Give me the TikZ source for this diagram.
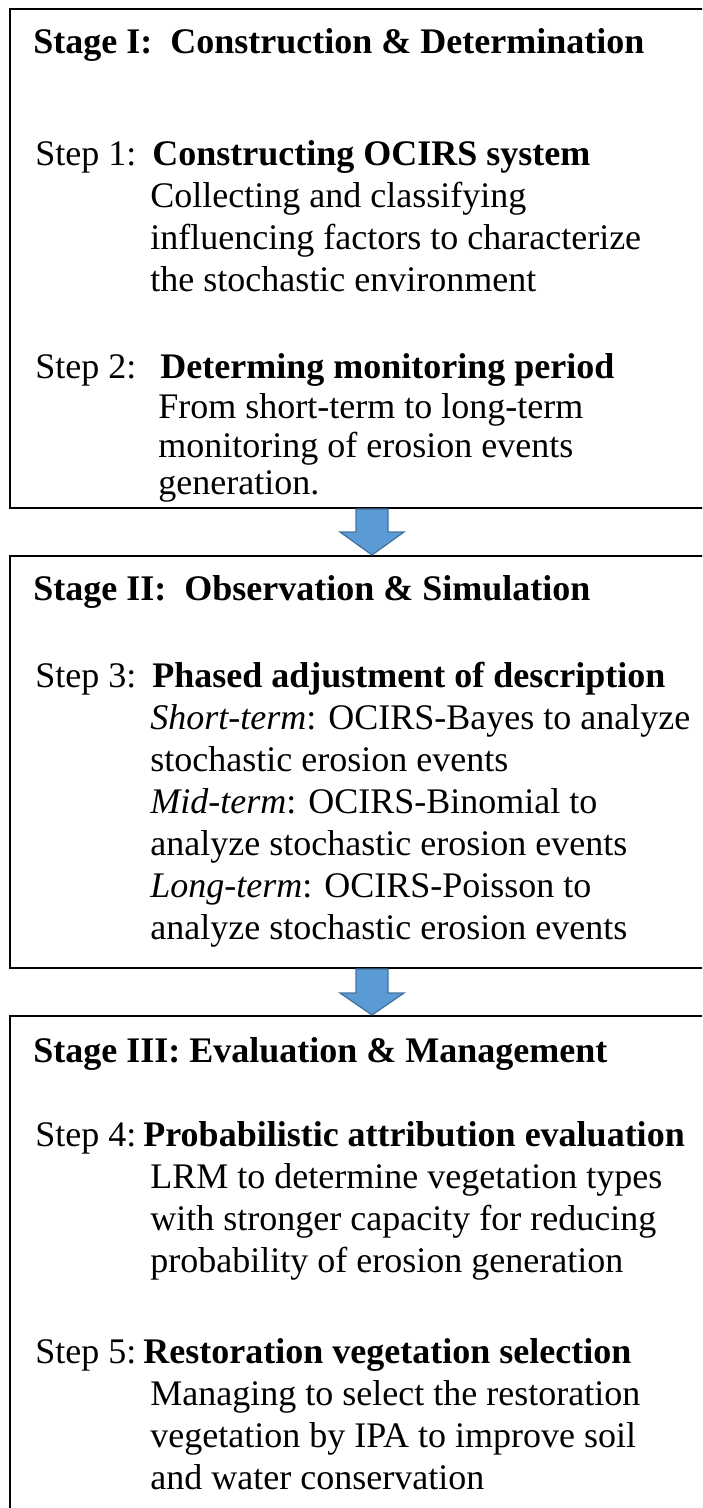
\documentclass[tikz,border=0pt]{standalone}
\usepackage{fontspec}
\setmainfont{Liberation Serif}
\begin{document}
\begin{tikzpicture}[x=0.5pt,y=-0.5pt,
  stagebox/.style={draw=black,line width=1pt,inner sep=0pt,anchor=north west},
  txt/.style={anchor=base west,inner sep=0pt,font=\fontsize{18pt}{21pt}\selectfont},
  btxt/.style={txt,font=\fontsize{18pt}{21pt}\selectfont\bfseries},
  blockarrow/.style={fill=arrowblue,draw=arrowedge,line width=0.6pt,line join=miter}
]
\definecolor{arrowblue}{HTML}{5B9BD5}
\definecolor{arrowedge}{HTML}{41719C}
\useasboundingbox (0,0) rectangle (702,1508);
\clip (0,0) rectangle (702,1508);
% boxes
\node[stagebox,minimum width=724pt*0.5,minimum height=499pt*0.5] (s1) at (9,8) {};
\node[stagebox,minimum width=724pt*0.5,minimum height=412pt*0.5] (s2) at (9,555) {};
\node[stagebox,minimum width=724pt*0.5,minimum height=540pt*0.5] (s3) at (9,1015) {};
% arrows
\draw[blockarrow] ([xshift=-8pt]s1.south) -- ([xshift=-8pt,yshift=-11.5pt]s1.south)
  -- ([xshift=-16pt,yshift=-11.5pt]s1.south) -- (s2.north)
  -- ([xshift=16pt,yshift=-11.5pt]s1.south) -- ([xshift=8pt,yshift=-11.5pt]s1.south)
  -- ([xshift=8pt]s1.south) -- cycle;
\draw[blockarrow] ([xshift=-8pt]s2.south) -- ([xshift=-8pt,yshift=-12pt]s2.south)
  -- ([xshift=-16pt,yshift=-12pt]s2.south) -- (s3.north)
  -- ([xshift=16pt,yshift=-12pt]s2.south) -- ([xshift=8pt,yshift=-12pt]s2.south)
  -- ([xshift=8pt]s2.south) -- cycle;
% Stage I
\node[btxt] (h1) at (33,54) {Stage I:\ \ Construction \& Determination};
\node[txt] (a1) at (35,166) {Step 1:};
\node[btxt] (a2) at (152,166) {Constructing OCIRS system};
\node[txt] (a3) at (150,208) {Collecting and classifying};
\node[txt] (a4) at (150,250) {influencing factors to characterize};
\node[txt] (a5) at (150,292) {the stochastic environment};
\node[txt] (b1) at (35,379) {Step 2:};
\node[btxt] (b2) at (160,379) {Determing monitoring period};
\node[txt] (b3) at (158,418) {From short-term to long-term};
\node[txt] (b4) at (158,457) {monitoring of erosion events};
\node[txt] (b5) at (158,494) {generation.};
% Stage II
\node[btxt] (h2) at (33,600) {Stage II:\ \ Observation \& Simulation};
\node[txt] (c1) at (35,687) {Step 3:};
\node[btxt] (c2) at (152,687) {Phased adjustment of description};
\node[txt] (c3) at (150,729) {\textit{Short-term}: OCIRS-Bayes to analyze};
\node[txt] (c4) at (150,771) {stochastic erosion events};
\node[txt] (c5) at (150,813) {\textit{Mid-term}: OCIRS-Binomial to};
\node[txt] (c6) at (150,855) {analyze stochastic erosion events};
\node[txt] (c7) at (150,897) {\textit{Long-term}: OCIRS-Poisson to};
\node[txt] (c8) at (150,939) {analyze stochastic erosion events};
% Stage III
\node[btxt] (h3) at (33,1062) {Stage III: Evaluation \& Management};
\node[txt] (d1) at (35,1146) {Step 4:};
\node[btxt] (d2) at (143,1146) {Probabilistic attribution evaluation};
\node[txt] (d3) at (150,1188) {LRM to determine vegetation types};
\node[txt] (d4) at (150,1230) {with stronger capacity for reducing};
\node[txt] (d5) at (150,1272) {probability of erosion generation};
\node[txt] (e1) at (35,1363) {Step 5:};
\node[btxt] (e2) at (143,1363) {Restoration vegetation selection};
\node[txt] (e3) at (150,1405) {Managing to select the restoration};
\node[txt] (e4) at (150,1447) {vegetation by IPA to improve soil};
\node[txt] (e5) at (150,1489) {and water conservation};
\end{tikzpicture}
\end{document}
